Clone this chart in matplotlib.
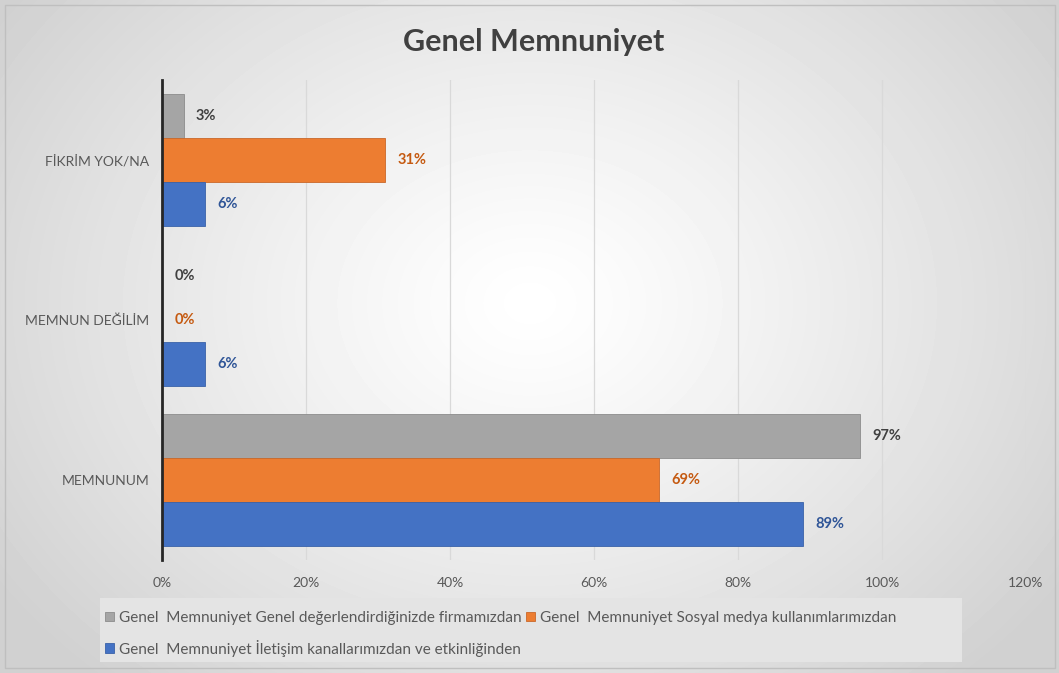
import numpy as np
import matplotlib.pyplot as plt
from matplotlib.patches import Rectangle

plt.rcParams['font.family'] = ['Lato', 'DejaVu Sans']

categories = ['MEMNUNUM', 'MEMNUN DEĞİLİM', 'FİKRİM YOK/NA']
series_names = ['Genel  Memnuniyet Genel değerlendirdiğinizde firmamızdan',
                'Genel  Memnuniyet Sosyal medya kullanımlarımızdan',
                'Genel  Memnuniyet İletişim kanallarımızdan ve etkinliğinden']
genel = [97, 0, 3]
sosyal = [69, 0, 31]
iletisim = [89, 6, 6]
xticks = [0, 20, 40, 60, 80, 100, 120]

colors = ['#A5A5A5', '#ED7D31', '#4472C4']
edges = ['#8c8c8c', '#c9682a', '#3a62a8']
label_colors = ['#404040', '#C55A11', '#2F5597']

W, H = 1059, 673
fig = plt.figure(figsize=(W / 100, H / 100), dpi=100)

# radial gradient background
bg = fig.add_axes([0, 0, 1, 1], zorder=-5)
yy, xx = np.mgrid[0:H, 0:W]
r = np.sqrt(((xx - W * 0.5) / (W * 0.6)) ** 2 + ((yy - H * 0.45) / (H * 0.75)) ** 2)
shade = 1.0 - 0.18 * np.clip(r, 0, 1) ** 1.2
bg.imshow(shade, cmap='gray', vmin=0, vmax=1, aspect='auto', extent=[0, 1, 0, 1])
bg.axis('off')
fig.patches.append(Rectangle((5 / W, 5 / H), 1050 / W, 663 / H, transform=fig.transFigure,
                             fill=False, edgecolor='#bfbfbf', linewidth=1))

ax = fig.add_axes([162 / W, 1 - 560 / H, 864 / W, 480 / H])
ax.patch.set_alpha(0)

y = np.arange(len(categories))
h = 0.275
data = [genel, sosyal, iletisim]
offsets = [h, 0, -h]
for i, vals in enumerate(data):
    bars = ax.barh(y + offsets[i], vals, height=h, color=colors[i], edgecolor=edges[i],
                   linewidth=0.6, label=series_names[i], zorder=3)
    for b, v in zip(bars, vals):
        ax.text(v + 1.7, b.get_y() + b.get_height() / 2, f'{v}%', va='center', ha='left',
                fontsize=10.5, fontweight='bold', color=label_colors[i], zorder=4)

ax.set_xlim(0, 120)
ax.set_ylim(-0.5, 2.5)
ax.set_xticks(xticks)
ax.set_xticklabels([f'{t}%' for t in xticks], fontsize=10, color='#595959')
ax.set_yticks(y)
ax.set_yticklabels(categories, fontsize=10, color='#595959')
ax.tick_params(length=0, pad=12)
ax.tick_params(axis='y', pad=9)
ax.grid(axis='x', color='#d9d9d9', linewidth=0.9, zorder=0)
for s in ['top', 'right', 'bottom']:
    ax.spines[s].set_visible(False)
ax.spines['left'].set_color('#262626')
ax.spines['left'].set_linewidth(2)
ax.spines['left'].set_zorder(5)

fig.text(534 / W, 1 - 42 / H, 'Genel Memnuniyet', ha='center', va='center',
         fontsize=22, fontweight='bold', color='#404040')

# legend background
fig.patches.append(Rectangle((100 / W, 1 - 662 / H), 862 / W, 64 / H, transform=fig.transFigure,
                             facecolor='#e4e4e4', edgecolor='none', zorder=1))
handles, labels = ax.get_legend_handles_labels()
order = [0, 2, 1]
leg = fig.legend([handles[k] for k in order], [labels[k] for k in order], ncol=2,
                 loc='upper left', bbox_to_anchor=(105 / W, 1 - 611 / H), frameon=False,
                 fontsize=11, handlelength=0.6, handleheight=0.6, handletextpad=0.3,
                 columnspacing=0.3, labelspacing=0.95, borderaxespad=0, borderpad=0)
for t in leg.get_texts():
    t.set_color('#595959')

fig.savefig('out.png', dpi=100)
